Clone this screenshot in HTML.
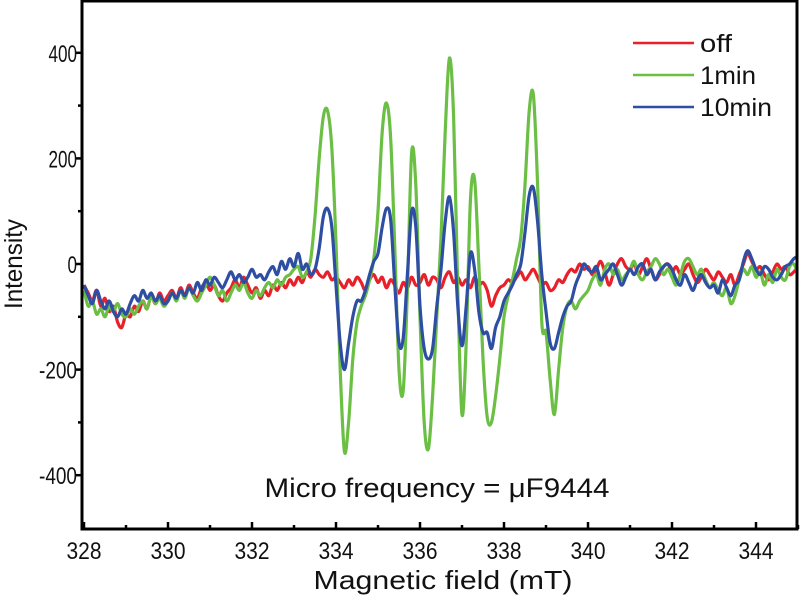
<!DOCTYPE html>
<html><head><meta charset="utf-8"><style>
html,body{margin:0;padding:0;background:#fff;width:800px;height:599px;overflow:hidden}
svg text{font-family:"Liberation Sans",Arial,sans-serif;fill:#111}
</style></head><body>
<svg id="chart" width="800" height="599" viewBox="0 0 800 599" xmlns="http://www.w3.org/2000/svg">
<g id="plot"></g>
<g id="axes"></g>
<text x="22" y="264" font-size="25" text-anchor="middle" transform="rotate(-90 22 264)" textLength="90" lengthAdjust="spacingAndGlyphs">Intensity</text>
<text x="443" y="589" font-size="26" text-anchor="middle" textLength="259" lengthAdjust="spacingAndGlyphs">Magnetic field (mT)</text>
<text x="437" y="497" font-size="27" text-anchor="middle" textLength="345" lengthAdjust="spacingAndGlyphs">Micro frequency  = μF9444</text>
<g>
<line x1="633" y1="43" x2="694" y2="43" stroke="#e8202a" stroke-width="2.5"/>
<text x="700" y="52" font-size="25" textLength="32" lengthAdjust="spacingAndGlyphs">off</text>
<line x1="633" y1="75" x2="694" y2="75" stroke="#6cbf45" stroke-width="2.5"/>
<text x="700" y="84" font-size="25" textLength="56" lengthAdjust="spacingAndGlyphs">1min</text>
<line x1="633" y1="107" x2="694" y2="107" stroke="#2e4ea3" stroke-width="2.5"/>
<text x="700" y="116" font-size="25" textLength="72" lengthAdjust="spacingAndGlyphs">10min</text>
</g>
</svg>
<script>
const fieldStart = 328;
const fieldStep = 0.1;
const xTicks = [328,330,332,334,336,338,340,342,344];
const xMinorTicks = [329,331,333,335,337,339,341,343,345];
const yTicks = [-400,-200,0,200,400];
const yMinorTicks = [-300,-100,100,300];
const offValues = [-40,-55,-70,-50,-80,-65,-90,-80,-110,-120,
-95,-100,-80,-90,-70,-85,-60,-75,-55,-70,
-60,-50,-65,-45,-60,-40,-55,-65,-45,-35,
-50,-40,-60,-70,-55,-45,-30,-45,-25,-40,
-55,-45,-65,-50,-60,-40,-50,-35,-45,-30,
-40,-25,-35,-15,-25,-10,-20,-25,-15,-30,
-25,-35,-45,-30,-40,-25,-35,-50,-30,-20,
-35,-25,-45,-30,-40,-55,-35,-45,-25,-40,
-35,-20,-40,-25,-30,-45,-25,-15,-35,-25,
-40,-30,-45,-25,-40,-35,-50,-80,-60,-45,
-40,-30,-35,-25,-15,-30,-20,-10,-25,-40,
-35,-50,-45,-30,-35,-20,-10,-15,0,-10,
-5,-20,-10,5,-15,-40,-20,0,10,-5,
-10,0,-20,-5,10,-10,-30,-20,-5,0,
-15,-5,-20,-10,0,-20,-35,-25,-10,-20,
-30,-15,-25,-35,-20,-40,-20,0,20,5,
-10,-5,-20,-30,-15,0,-10,-5,-20,-15,-5];
const oneMinValues = [-50,-80,-70,-95,-85,-100,-80,-90,-75,-95,
-100,-85,-95,-80,-70,-85,-60,-75,-65,-80,
-70,-55,-70,-50,-65,-45,-60,-70,-55,-40,
-25,-40,-60,-50,-70,-55,-40,-50,-35,-55,
-65,-50,-60,-45,-35,-45,-30,-40,-25,-20,
-10,-5,-25,-15,10,90,200,280,290,220,
40,-200,-355,-300,-180,-110,-80,-60,-30,10,
100,250,305,240,30,-200,-240,-50,210,150,
-100,-300,-350,-250,-100,50,250,390,280,-50,
-285,-150,120,160,0,-180,-290,-300,-250,-180,
-100,-60,-30,10,50,150,290,320,150,-110,
-130,-220,-285,-200,-120,-80,-70,-85,-70,-60,
-50,-30,-20,-40,-10,0,-20,-10,-30,-20,
-10,5,-20,-30,-15,-5,10,0,-20,-10,
-25,-40,-20,5,10,-5,-20,-10,-30,-45,
-35,-50,-60,-45,-75,-60,-30,-10,-20,-5,
-25,-15,-40,-20,-35,-10,-25,-30,-5,0,-20];
const tenMinValues = [-40,-60,-75,-50,-70,-85,-70,-90,-100,-85,
-95,-75,-60,-70,-50,-65,-55,-70,-60,-75,
-70,-55,-65,-50,-60,-45,-55,-35,-50,-30,
-40,-25,-35,-45,-30,-15,-30,-20,-35,-25,
-10,-25,-20,-30,-15,-5,-20,5,-10,10,
-5,20,-10,0,-20,-10,30,90,105,70,
-40,-150,-200,-150,-100,-70,-70,-50,-20,5,
20,70,105,85,-40,-150,-140,-20,100,70,
-80,-160,-180,-160,-80,-10,80,127,60,-80,
-155,-80,20,-10,-90,-130,-130,-160,-120,-100,
-70,-55,-40,-20,0,60,130,144,80,-20,
-90,-150,-160,-130,-100,-80,-70,-40,-20,0,
-10,-15,-5,-30,-20,-10,0,-20,-40,-25,
-10,-20,-5,0,-20,-10,-30,-15,-5,0,
-10,-30,-40,-20,-35,-50,-30,-20,-35,-45,
-40,-55,-30,-45,-60,-40,-30,5,25,10,
-10,-20,-5,-10,-25,-30,-20,-5,0,10,15];

const NS = "http://www.w3.org/2000/svg";
const L = 82, R = 797, T = 0, B = 529;
function xScale(f){ return 84 + (f - 328) * 42; }
function yScale(v){ return 264 - v * 0.528; }
function mk(tag, attrs, parent){
  const e = document.createElementNS(NS, tag);
  for (const k in attrs) e.setAttribute(k, attrs[k]);
  parent.appendChild(e);
  return e;
}
const plot = document.getElementById('plot');
const axes = document.getElementById('axes');
const clip = mk('clipPath', {id:'clipP'}, plot);
mk('rect', {x:L, y:T, width:R-L, height:B-T}, clip);

function smoothPath(pts){
  let d = 'M' + pts[0][0].toFixed(1) + ',' + pts[0][1].toFixed(1);
  for (let i = 0; i < pts.length - 1; i++){
    const p0 = pts[Math.max(0,i-1)], p1 = pts[i], p2 = pts[i+1], p3 = pts[Math.min(pts.length-1,i+2)];
    const c1x = p1[0] + (p2[0]-p0[0])/6, c1y = p1[1] + (p2[1]-p0[1])/6;
    const c2x = p2[0] - (p3[0]-p1[0])/6, c2y = p2[1] - (p3[1]-p1[1])/6;
    d += 'C' + c1x.toFixed(1)+','+c1y.toFixed(1)+' '+c2x.toFixed(1)+','+c2y.toFixed(1)+' '+p2[0].toFixed(1)+','+p2[1].toFixed(1);
  }
  return d;
}
function drawSeries(vals, color, name){
  const pts = vals.map((v,i)=> [xScale(fieldStart + i*fieldStep), yScale(v)]);
  const pl = mk('path', {d:smoothPath(pts), fill:'none', stroke:color, 'stroke-width':3.2, 'stroke-linejoin':'round', 'clip-path':'url(#clipP)'}, plot);
  
  
}
drawSeries(offValues, '#e8202a', 'series-off');
drawSeries(oneMinValues, '#6cbf45', 'series-1min');
drawSeries(tenMinValues, '#2e4ea3', 'series-10min');

const frame = mk('rect', {x:L, y:T+1, width:R-L, height:B-T-1, fill:'none', stroke:'#000', 'stroke-width':3}, axes);



xTicks.forEach(t=>{
  const x = xScale(t);
  const tk = mk('line', {x1:x, y1:B, x2:x, y2:B-7, stroke:'#000', 'stroke-width':2.5}, axes);
  
  
  const tx = mk('text', {x:x, y:B+30, 'font-size':24, 'text-anchor':'middle', textLength:35, lengthAdjust:'spacingAndGlyphs'}, axes);
  tx.textContent = t;
  
  
});
xMinorTicks.forEach(t=>{
  const x = xScale(t);
  const tk = mk('line', {x1:x, y1:B, x2:x, y2:B-4, stroke:'#000', 'stroke-width':2.5}, axes);
  
  
});
yTicks.forEach(t=>{
  const y = yScale(t);
  const tk = mk('line', {x1:L, y1:y, x2:L-6, y2:y, stroke:'#000', 'stroke-width':2.5}, axes);
  
  
  const tx = mk('text', {x:L-5, y:y+9, 'font-size':24, 'text-anchor':'end', textLength:(String(t).length*9.5), lengthAdjust:'spacingAndGlyphs'}, axes);
  tx.textContent = t;
  
  
});
yMinorTicks.forEach(t=>{
  const y = yScale(t);
  const tk = mk('line', {x1:L, y1:y, x2:L-4, y2:y, stroke:'#000', 'stroke-width':2.5}, axes);
  
  
});
</script>
</body></html>
